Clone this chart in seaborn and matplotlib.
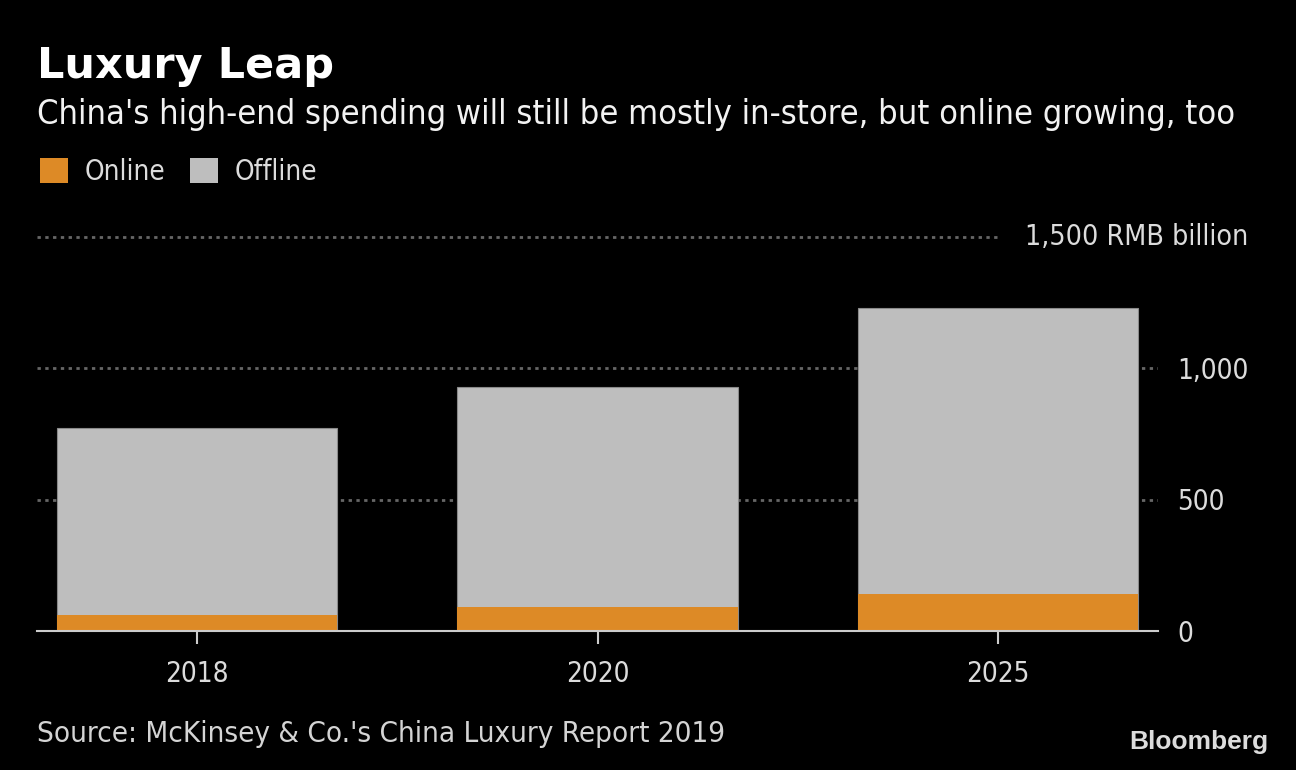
import matplotlib
matplotlib.use('Agg')
import matplotlib.pyplot as plt
import seaborn as sns
import pandas as pd
from matplotlib.patches import Patch

# data (RMB billion)
years = ['2018', '2020', '2025']
online = [60, 90, 142]
offline = [710, 837, 1088]
y_ticks = [0, 500, 1000]
y_tick_labels = ['0', '500', '1,000']

totals = [a + b for a, b in zip(online, offline)]
df = pd.DataFrame({'year': years, 'online': online, 'total': totals})

orange = '#DD8A26'
grey = '#BEBEBE'
txt = '#DCDCDC'

sns.set_style('dark')
plt.rcParams['font.family'] = ['DejaVu Sans']
plt.rcParams['font.stretch'] = 'condensed'

fig = plt.figure(figsize=(12.96, 7.7), dpi=100, facecolor='black')
ax = fig.add_axes([37 / 1296, 1 - 631 / 770, (1158 - 37) / 1296, (631 - 236.5) / 770])
ax.set_facecolor('black')

# 网格线（点线）
for v in [500, 1000]:
    ax.axhline(v, color='#666666', linestyle=(0, (1.2, 1.6)), linewidth=2, zorder=0)
ax.axhline(1500, xmax=(1000 - 37) / (1158 - 37), color='#666666',
           linestyle=(0, (1.2, 1.6)), linewidth=2, zorder=0, clip_on=False)

# 堆叠柱：先画总量（灰），再画线上（橙）
sns.barplot(data=df, x='year', y='total', color=grey, saturation=1, width=0.7,
            edgecolor='#8a8a8a', linewidth=0.8, ax=ax, zorder=2)
sns.barplot(data=df, x='year', y='online', color=orange, saturation=1, width=0.7,
            linewidth=0, ax=ax, zorder=3)

ax.set_xlim(-0.4, 2.4)
ax.set_ylim(0, 1500)
ax.set_xlabel('')
ax.set_ylabel('')
ax.grid(False)

ax.yaxis.tick_right()
ax.set_yticks(y_ticks)
ax.set_yticklabels(y_tick_labels)
ax.tick_params(axis='y', length=0, pad=14, labelsize=20, labelcolor=txt)
ax.tick_params(axis='x', bottom=True, length=9, width=1.5, color='#cccccc', pad=12,
               labelsize=20, labelcolor=txt, direction='out')

for s in ['top', 'left', 'right']:
    ax.spines[s].set_visible(False)
ax.spines['bottom'].set_color('#cccccc')
ax.spines['bottom'].set_linewidth(1.5)
ax.spines['bottom'].set_zorder(4)

fig.text(1248 / 1296, 1 - 236.5 / 770, '1,500 RMB billion', ha='right', va='center',
         fontsize=20.5, color=txt)

# 标题
fig.text(37 / 1296, 1 - 78 / 770, 'Luxury Leap', fontsize=31, fontweight='bold',
         color='white', va='baseline', fontstretch='normal')
fig.text(37 / 1296, 1 - 124 / 770,
         "China's high-end spending will still be mostly in-store, but online growing, too",
         fontsize=24.7, color='#f2f2f2', va='baseline')

# 图例
handles = [Patch(facecolor=orange, edgecolor='none', label='Online'),
           Patch(facecolor=grey, edgecolor='none', label='Offline')]
fig.legend(handles=handles, loc='upper left', bbox_to_anchor=(40 / 1296, 1 - 158 / 770),
           ncol=2, frameon=False, fontsize=20, labelcolor=txt, handlelength=1,
           handleheight=1, handletextpad=0.6, columnspacing=0.9, borderpad=0,
           borderaxespad=0)

fig.text(37 / 1296, 1 - 742 / 770, "Source: McKinsey & Co.'s China Luxury Report 2019",
         fontsize=21.2, color='#d4d4d4', va='baseline')
fig.text(1268 / 1296, 1 - 749 / 770, 'Bloomberg', fontsize=19, fontweight='bold',
         color='#dcdcdc', ha='right', va='baseline', fontstretch='normal',
         family=['Liberation Sans', 'DejaVu Sans'])

fig.savefig('out.png', dpi=100, facecolor='black')
